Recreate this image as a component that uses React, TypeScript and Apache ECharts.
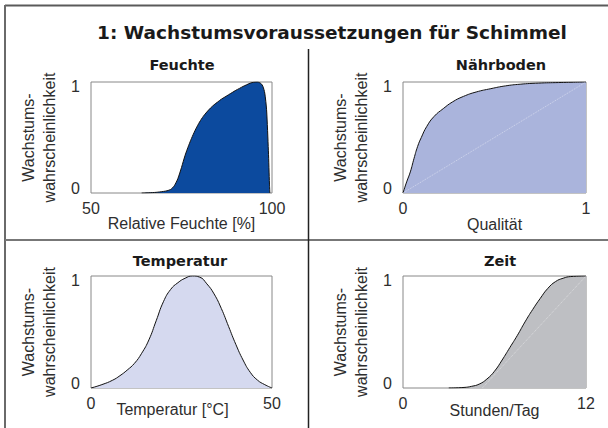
import React, { useEffect, useRef } from 'react';
import * as echarts from 'echarts';

// ---- Data ----
const mainTitle = '1: Wachstumsvoraussetzungen für Schimmel';
const panelTitles = ['Feuchte', 'Nährboden', 'Temperatur', 'Zeit'];
const xNames = ['Relative Feuchte [%]', 'Qualität', 'Temperatur [°C]', 'Stunden/Tag'];
const yName = 'Wachstums-\nwahrscheinlichkeit';
const xMins = [50, 0, 0, 0];
const xMaxs = [100, 1, 50, 12];

const humidityX = [64, 66, 68, 70, 71, 72, 73, 74, 75, 76, 77, 78, 79, 80, 81, 82, 83, 84, 85, 86, 87, 88, 89, 90, 91, 92, 93, 94, 95, 96, 97, 97.5, 98, 98.5, 99, 99.3, 99.4];
const humidityY = [0, 0.002, 0.006, 0.014, 0.02, 0.032, 0.065, 0.13, 0.23, 0.34, 0.43, 0.51, 0.58, 0.64, 0.69, 0.73, 0.765, 0.795, 0.82, 0.845, 0.865, 0.885, 0.905, 0.925, 0.942, 0.96, 0.975, 0.99, 0.998, 1.0, 0.985, 0.96, 0.9, 0.75, 0.38, 0.08, 0];

const nutrientX = [0, 0.02, 0.04, 0.06, 0.08, 0.1, 0.13, 0.17, 0.22, 0.27, 0.33, 0.4, 0.48, 0.56, 0.64, 0.74, 0.85, 1];
const nutrientY = [0, 0.1, 0.19, 0.31, 0.42, 0.5, 0.6, 0.69, 0.76, 0.82, 0.87, 0.91, 0.94, 0.965, 0.98, 0.99, 0.995, 1];

const tempX = [0, 3, 6, 8, 10, 12, 14, 16, 18, 20, 22, 24, 26, 28, 30, 32, 34, 36, 38, 40, 42, 44, 46, 48, 50];
const tempY = [0, 0.03, 0.07, 0.11, 0.16, 0.22, 0.31, 0.43, 0.6, 0.77, 0.88, 0.94, 0.98, 1.0, 0.99, 0.93, 0.84, 0.71, 0.55, 0.39, 0.25, 0.14, 0.07, 0.03, 0];

const timeX = [3, 4, 4.5, 5, 5.5, 6, 6.5, 7, 7.5, 8, 8.5, 9, 9.5, 10, 10.5, 11, 12];
const timeY = [0, 0.005, 0.015, 0.035, 0.08, 0.15, 0.25, 0.36, 0.47, 0.59, 0.7, 0.8, 0.89, 0.95, 0.98, 0.995, 1];

const fills = ['#0c4a9e', '#aab4dc', '#d5d9ef', '#bebfc3'];
const smoothness = [0.25, 0.5, 0.5, 0.5];

const FONT = 'Liberation Sans, Arial, sans-serif';
const BOLD = 'DejaVu Sans, sans-serif';
const TXT = '#2e2e2e';

const pairs = (xs: number[], ys: number[]) => xs.map((x, i) => [x, ys[i]]);

export default function App() {
  const ref = useRef<HTMLDivElement>(null);
  useEffect(() => {
    if (!ref.current) return;
    const chart = echarts.init(ref.current, undefined, { renderer: 'svg' });

    const grids = [
      { left: 91, top: 82, width: 181, height: 111 },
      { left: 403, top: 82, width: 183, height: 111 },
      { left: 91, top: 276, width: 181, height: 112 },
      { left: 403, top: 276, width: 183, height: 112 },
    ];
    const xNameGaps = [22, 23, 13, 14];
    const titleCenters = [[177, 52], [496, 52], [175, 248], [495, 248]];
    const datas = [
      pairs(humidityX, humidityY),
      pairs(nutrientX, nutrientY),
      pairs(tempX, tempY),
      pairs(timeX, timeY),
    ];
    const diagonals: any[] = [
      null,
      [[{ coord: [0, 0] }, { coord: [1, 1] }]],
      null,
      [[{ coord: [5.2, 0] }, { coord: [12, 1] }]],
    ];

    const option: any = {
      animation: false,
      backgroundColor: '#ffffff',
      title: [
        {
          text: mainTitle,
          left: 327,
          top: 18,
          textAlign: 'center',
          textStyle: { fontFamily: BOLD, fontWeight: 'bold', fontSize: 18.5, color: '#1a1a1a' },
        },
        ...panelTitles.map((t, i) => ({
          text: t,
          left: titleCenters[i][0],
          top: titleCenters[i][1],
          textAlign: 'center',
          textStyle: { fontFamily: BOLD, fontWeight: 'bold', fontSize: 14.5, color: '#1a1a1a' },
        })),
      ],
      grid: grids.map((g) => ({
        ...g,
        show: true,
        borderColor: '#888',
        borderWidth: 1,
        backgroundColor: 'transparent',
        containLabel: false,
      })),
      xAxis: grids.map((_, i) => ({
        type: 'value',
        gridIndex: i,
        min: xMins[i],
        max: xMaxs[i],
        interval: xMaxs[i] - xMins[i],
        name: xNames[i],
        nameLocation: 'middle',
        nameGap: xNameGaps[i],
        nameMoveOverlap: false,
        nameTextStyle: {
          fontFamily: FONT,
          fontSize: 16,
          color: TXT,
          padding: i === 2 ? [0, 18, 0, 0] : 0,
        },
        axisLine: { show: false },
        axisTick: { show: false },
        splitLine: { show: false },
        axisLabel: { fontFamily: FONT, fontSize: 16, color: TXT, margin: 7, showMinLabel: true, showMaxLabel: true },
      })),
      yAxis: grids.map((_, i) => ({
        type: 'value',
        gridIndex: i,
        min: 0,
        max: 1,
        interval: 1,
        name: yName,
        nameLocation: 'middle',
        nameRotate: 90,
        nameGap: 31,
        nameMoveOverlap: false,
        nameTextStyle: { fontFamily: FONT, fontSize: 16, color: TXT, lineHeight: 21 },
        axisLine: { show: false },
        axisTick: { show: false },
        splitLine: { show: false },
        axisLabel: {
          fontFamily: FONT,
          fontSize: 16,
          color: TXT,
          margin: 11,
          formatter: (v: number) => (v === 1 ? '{t|1}' : '{b|0}'),
          rich: {
            t: { fontFamily: FONT, fontSize: 16, color: TXT, padding: [9, 0, 0, 0] },
            b: { fontFamily: FONT, fontSize: 16, color: TXT, padding: [0, 0, 9, 0] },
          },
        },
      })),
      series: datas.map((d, i) => ({
        type: 'line',
        xAxisIndex: i,
        yAxisIndex: i,
        data: d,
        smooth: smoothness[i],
        showSymbol: false,
        symbol: 'none',
        silent: true,
        lineStyle: { color: '#111', width: 1 },
        areaStyle: { color: fills[i], opacity: 1 },
        markLine: diagonals[i]
          ? {
              silent: true,
              symbol: 'none',
              label: { show: false },
              lineStyle: { color: 'rgba(255,255,255,0.45)', width: 1, type: 'dotted' },
              data: diagonals[i],
            }
          : undefined,
      })),
      graphic: [
        { type: 'line', shape: { x1: 5, y1: 5.5, x2: 608, y2: 5.5 }, style: { stroke: '#5a5a5a', lineWidth: 2 } },
        { type: 'line', shape: { x1: 5, y1: 5, x2: 5, y2: 428 }, style: { stroke: '#6a6a6a', lineWidth: 2 } },
        { type: 'line', shape: { x1: 5, y1: 240, x2: 608, y2: 240 }, style: { stroke: '#777', lineWidth: 2 } },
        { type: 'line', shape: { x1: 308.5, y1: 49, x2: 308.5, y2: 428 }, style: { stroke: '#222', lineWidth: 1.5 } },
      ],
    };
    chart.setOption(option);
    return () => chart.dispose();
  }, []);

  return (
    <div
      ref={ref}
      style={{ position: 'fixed', left: 0, top: 0, width: 608, height: 428, background: '#fff' }}
    />
  );
}
